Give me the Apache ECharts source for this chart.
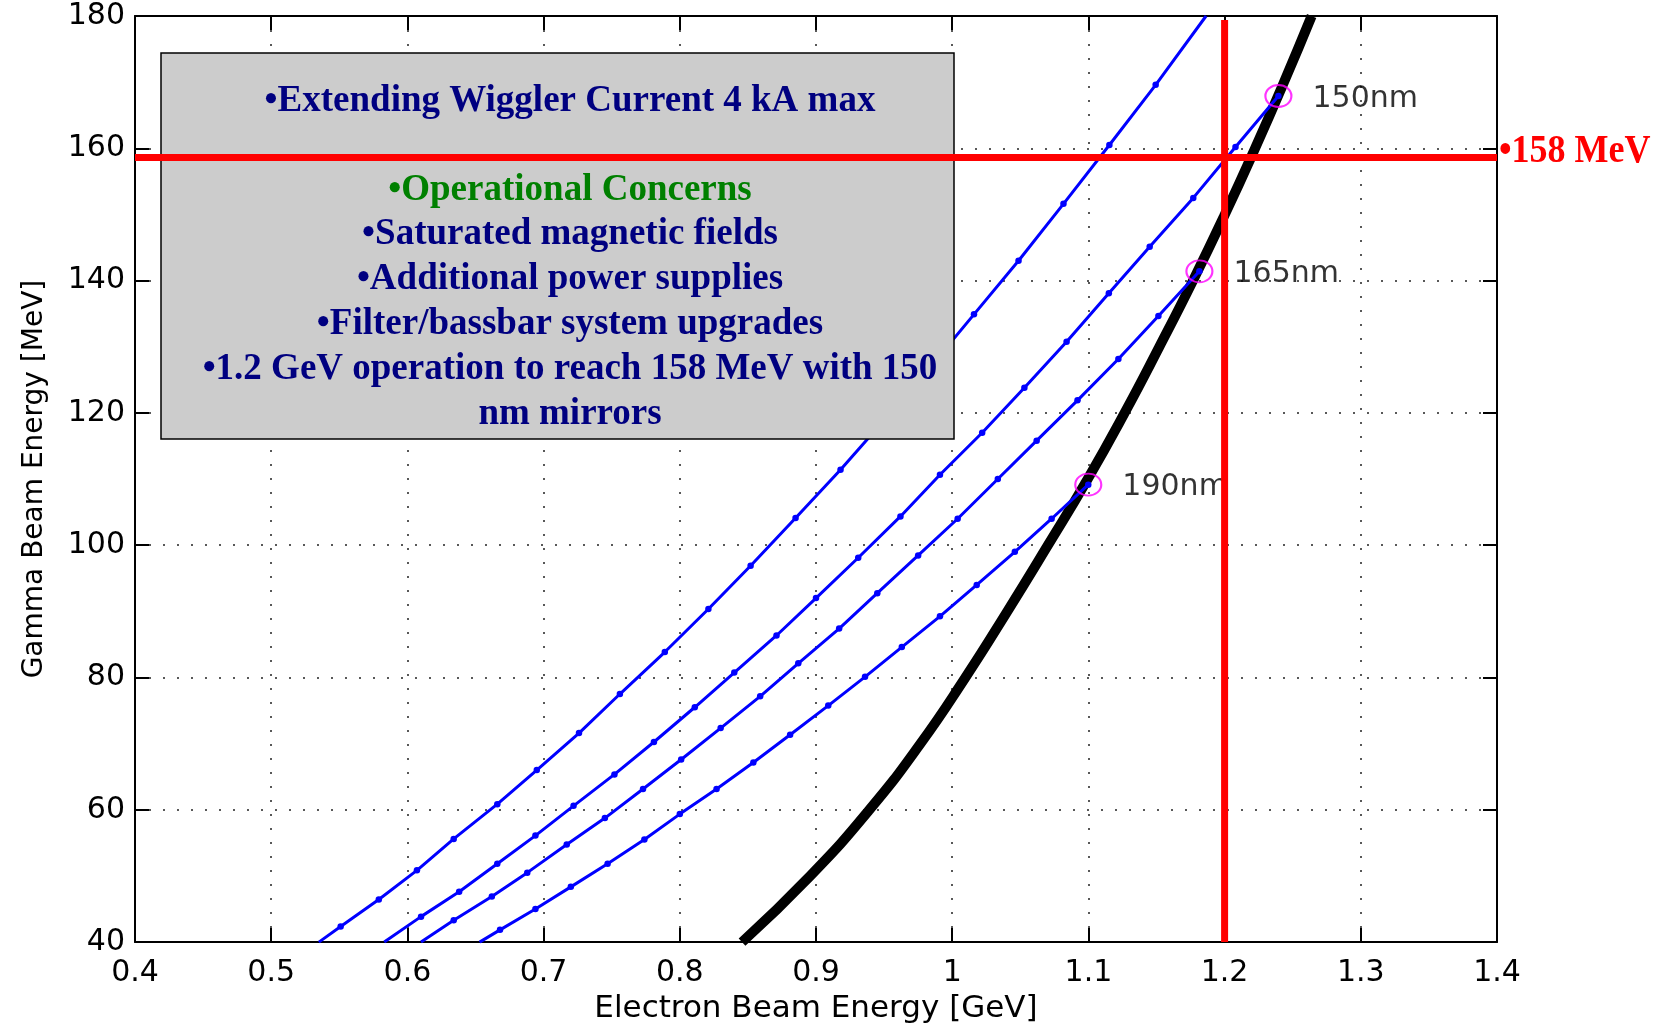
<!DOCTYPE html>
<html>
<head>
<meta charset="utf-8">
<script src="https://cdn.jsdelivr.net/npm/echarts@6/dist/echarts.min.js"></script>
<style>
html,body{margin:0;padding:0;background:#fff;}
#chart{width:1655px;height:1029px;}
</style>
</head>
<body>
<div id="chart"></div>
<script>
// ---- axis ticks ----
const xTicks = [0.4, 0.5, 0.6, 0.7, 0.8, 0.9, 1.0, 1.1, 1.2, 1.3, 1.4];
const yTicks = [40, 60, 80, 100, 120, 140, 160, 180];
const xStep = 0.1;
const yStep = 20;

// ---- blue curves (Electron GeV, Gamma MeV) ----
const curveA = [[0.535,40],[0.551,42.35],[0.579,46.45],[0.607,50.85],[0.634,55.6],[0.666,60.85],[0.695,66.0],[0.726,71.6],[0.756,77.5],[0.789,83.85],[0.821,90.35],[0.852,96.9],[0.885,104.1],[0.918,111.4],[0.950,118.9],[0.983,126.7],[1.016,134.9],[1.0487,143.0],[1.0817,151.6],[1.1154,160.5],[1.1494,169.6],[1.1864,180]];
const curveB = [[0.583,40],[0.610,43.85],[0.638,47.6],[0.666,51.85],[0.694,56.1],[0.722,60.6],[0.752,65.35],[0.781,70.25],[0.811,75.5],[0.840,80.75],[0.871,86.35],[0.900,92.0],[0.931,98.1],[0.962,104.35],[0.991,110.65],[1.022,117.0],[1.053,123.8],[1.084,130.75],[1.115,138.1],[1.145,145.1],[1.177,152.5],[1.208,160.2],[1.2395,167.9]];
const curveC = [[0.610,40],[0.634,43.3],[0.662,46.9],[0.688,50.5],[0.717,54.75],[0.745,58.75],[0.773,63.15],[0.801,67.6],[0.830,72.35],[0.859,77.15],[0.887,82.15],[0.917,87.4],[0.945,92.75],[0.975,98.45],[1.004,104.0],[1.0335,110.0],[1.062,115.8],[1.092,121.9],[1.122,128.15],[1.1514,134.65],[1.1815,141.4]];
const curveD = [[0.653,40],[0.668,41.85],[0.694,45.0],[0.720,48.35],[0.747,51.85],[0.774,55.5],[0.800,59.35],[0.827,63.15],[0.854,67.15],[0.881,71.35],[0.909,75.75],[0.936,80.1],[0.963,84.6],[0.991,89.25],[1.018,94.0],[1.046,99.0],[1.073,104.0],[1.0999,109.15]];

// ---- black limit curve ----
const limitCurve = [[0.8457,40],[0.8957,50],[0.9392,60],[0.9767,70],[1.0097,80],[1.0405,90],[1.0703,100],[1.0995,110],[1.1266,120],[1.1521,130],[1.1768,140],[1.2002,150],[1.2224,160],[1.2436,170],[1.2639,180]];

// ---- crossing markers ----
const crossings = [[1.2395,167.9],[1.1815,141.4],[1.0999,109.15]];
const crossingLabels = ['150nm', '165nm', '190nm'];

// ---- red reference lines ----
const targetGamma = 158.6;
const targetElectron = 1.2;
const targetTop = 179.4;
const targetLabel = '\u2022158 MeV';

// ---- text box ----
const boxTitle = '\u2022Extending Wiggler Current 4 kA max';
const boxHeading = '\u2022Operational Concerns';
const boxItems = ['\u2022Saturated magnetic fields', '\u2022Additional power supplies', '\u2022Filter/bassbar system upgrades', '\u20221.2 GeV operation to reach 158 MeV with 150', 'nm mirrors'];

const xName = 'Electron Beam Energy [GeV]';
const yName = 'Gamma Beam Energy [MeV]';

function blueData(arr, hidden) {
  return arr.map(function (p, i) {
    return hidden.indexOf(i) >= 0 ? { value: p, symbol: 'none' } : { value: p };
  });
}
function fmt(v) { return String(Math.round(v * 10) / 10); }

const chart = echarts.init(document.getElementById('chart'), null, { renderer: 'canvas' });

const sans = 'DejaVu Sans';
const serif = 'Liberation Serif';
const gridLine = { show: true, lineStyle: { color: '#222', width: 1.5, type: [2, 12] } };

const blueStyle = {
  type: 'line', symbol: 'circle', symbolSize: 6.5, z: 3,
  lineStyle: { color: '#0000ff', width: 3 },
  itemStyle: { color: '#0000ff' },
  silent: true
};

const series = [
  Object.assign({}, blueStyle, { data: blueData(curveA, [0, curveA.length - 1]) }),
  Object.assign({}, blueStyle, { data: blueData(curveB, [0]) }),
  Object.assign({}, blueStyle, { data: blueData(curveC, [0]) }),
  Object.assign({}, blueStyle, { data: blueData(curveD, [0]) }),
  {
    type: 'line', data: limitCurve, symbol: 'none', smooth: true, z: 2, silent: true,
    lineStyle: { color: '#000', width: 10 }
  },
  {
    type: 'scatter', data: crossings, symbol: 'circle', symbolSize: [26, 22], z: 4, silent: true,
    itemStyle: { color: 'rgba(0,0,0,0)', borderColor: '#ff00ff', borderWidth: 2 },
    label: {
      show: true, position: 'right', distance: 20, offset: [0, 3],
      formatter: function (p) { return crossingLabels[p.dataIndex]; },
      fontFamily: sans, fontSize: 30, color: '#000'
    }
  },
  {
    type: 'line', data: [[xTicks[0], targetGamma], [xTicks[xTicks.length - 1], targetGamma]],
    symbol: 'none', z: 20, silent: true, lineStyle: { color: '#ff0000', width: 7 }
  },
  {
    type: 'line', data: [[targetElectron, yTicks[0]], [targetElectron, targetTop]],
    symbol: 'none', z: 20, silent: true, lineStyle: { color: '#ff0000', width: 7 }
  }
];

const lineY = [101.5, 190.5, 234.5, 279.5, 324.5, 369.5, 414.5];
const boxTexts = [boxTitle, boxHeading].concat(boxItems);
const graphics = [
  {
    type: 'rect', z: 10, silent: true,
    shape: { x: 161, y: 53, width: 793, height: 386 },
    style: { fill: '#cccccc', stroke: '#000', lineWidth: 1.5 }
  }
];
boxTexts.forEach(function (t, i) {
  graphics.push({
    type: 'text', z: 11, silent: true, x: 570, y: lineY[i],
    style: {
      text: t, align: 'center', verticalAlign: 'middle',
      fill: i === 1 ? '#008000' : '#000080',
      font: 'bold 37px "' + serif + '"'
    }
  });
});
graphics.push({
  type: 'text', z: 21, silent: true, x: 1499, y: 152, scaleY: 1.1,
  style: { text: targetLabel, align: 'left', verticalAlign: 'middle', fill: '#ff0000', font: 'bold 36px "' + serif + '"' }
});

const option = {
  animation: false,
  backgroundColor: '#fff',
  grid: { left: 135, right: 158, top: 16, bottom: 80, containLabel: false },
  xAxis: [
    {
      type: 'value', position: 'bottom', min: xTicks[0], max: xTicks[xTicks.length - 1], interval: xStep,
      axisLine: { show: true, onZero: false, lineStyle: { color: '#000', width: 2 } },
      axisTick: { show: true, inside: true, length: 14, lineStyle: { color: '#000', width: 2 } },
      axisLabel: { margin: 16, fontFamily: sans, fontSize: 30, color: '#000', formatter: fmt },
      splitLine: gridLine,
      name: xName, nameLocation: 'middle', nameGap: 50,
      nameTextStyle: { fontFamily: sans, fontSize: 31, color: '#000' }
    },
    {
      type: 'value', position: 'top', min: xTicks[0], max: xTicks[xTicks.length - 1], interval: xStep,
      axisLine: { show: true, onZero: false, lineStyle: { color: '#000', width: 2 } },
      axisTick: { show: true, inside: true, length: 14, lineStyle: { color: '#000', width: 2 } },
      axisLabel: { show: false }, splitLine: { show: false }
    }
  ],
  yAxis: [
    {
      type: 'value', position: 'left', min: yTicks[0], max: yTicks[yTicks.length - 1], interval: yStep,
      axisLine: { show: true, onZero: false, lineStyle: { color: '#000', width: 2 } },
      axisTick: { show: true, inside: true, length: 14, lineStyle: { color: '#000', width: 2 } },
      axisLabel: { margin: 10, padding: [5, 0, 0, 0], fontFamily: sans, fontSize: 30, color: '#000' },
      splitLine: gridLine,
      name: yName, nameLocation: 'middle', nameGap: 86,
      nameTextStyle: { fontFamily: sans, fontSize: 28, color: '#000' }
    },
    {
      type: 'value', position: 'right', min: yTicks[0], max: yTicks[yTicks.length - 1], interval: yStep,
      axisLine: { show: true, onZero: false, lineStyle: { color: '#000', width: 2 } },
      axisTick: { show: true, inside: true, length: 14, lineStyle: { color: '#000', width: 2 } },
      axisLabel: { show: false }, splitLine: { show: false }
    }
  ],
  series: series,
  graphic: graphics
};
chart.setOption(option);
</script>
</body>
</html>
